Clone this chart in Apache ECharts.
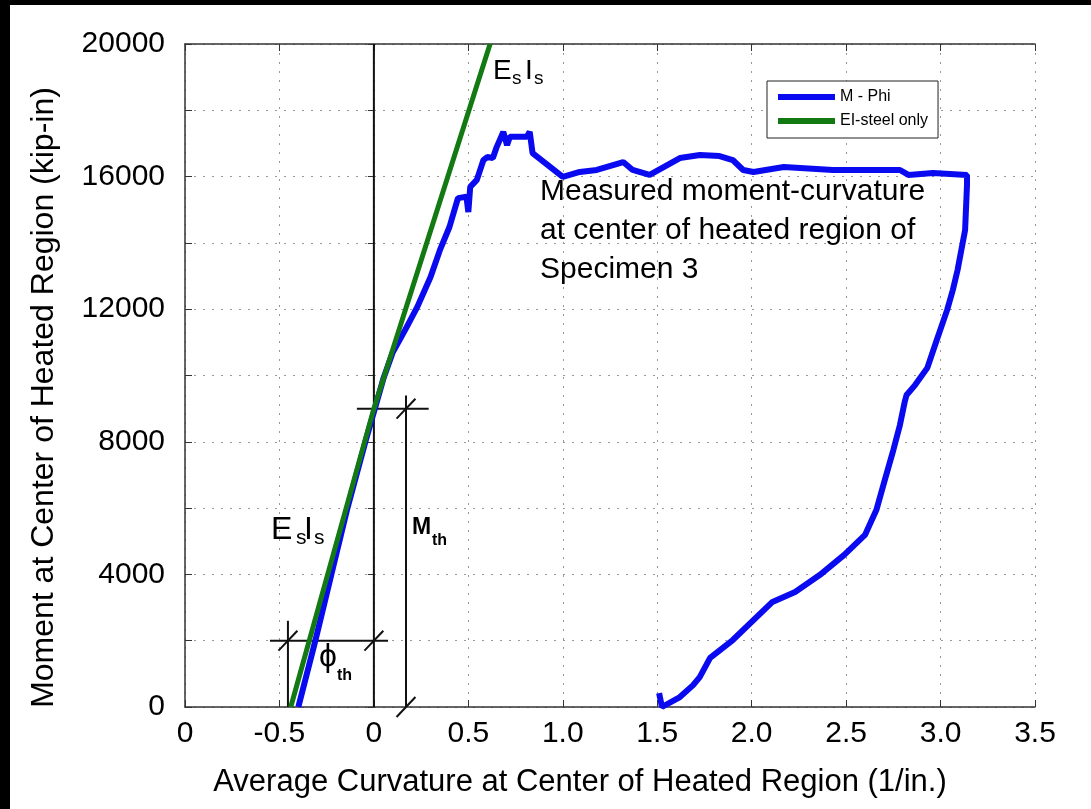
<!DOCTYPE html>
<html>
<head>
<meta charset="utf-8">
<script src="https://cdn.jsdelivr.net/npm/echarts@6.0.0/dist/echarts.min.js"></script>
<style>
  html, body { margin: 0; padding: 0; background: #fff; }
  #main { width: 1091px; height: 809px; }
  .bar { position: absolute; background: #000; }
</style>
</head>
<body>
<div id="main"></div>
<div class="bar" style="left:0;top:0;width:1091px;height:5px"></div>
<div class="bar" style="left:0;top:0;width:10px;height:809px"></div>
<script>
// tick labels as printed on the figure (first one reads "0")
var xTickText = ['0', '-0.5', '0', '0.5', '1.0', '1.5', '2.0', '2.5', '3.0', '3.5'];

// measured M-Phi curve (curvature 1/in., moment kip-in)
var blueX = [-0.40, -0.31, -0.225, -0.14, -0.045, 0.005, 0.05, 0.10, 0.165, 0.23, 0.30, 0.35, 0.40,
  0.445, 0.49, 0.50, 0.51, 0.545, 0.58, 0.60, 0.63, 0.65, 0.685, 0.705, 0.72, 0.76, 0.81, 0.825, 0.84,
  1.00, 1.09, 1.18, 1.32, 1.37, 1.46, 1.62, 1.726, 1.83, 1.90, 1.955, 2.01, 2.17, 2.43, 2.785, 2.83,
  2.96, 3.14, 3.14, 3.13, 3.09, 3.065, 3.035, 2.98, 2.93, 2.865, 2.82, 2.81, 2.785, 2.75, 2.705, 2.66,
  2.60, 2.49, 2.36, 2.23, 2.11, 1.90, 1.78, 1.725, 1.69, 1.62, 1.525, 1.51];
var blueY = [0, 2000, 4000, 6000, 8000, 9000, 9900, 10700, 11370, 12070, 12970, 13790, 14480,
  15350, 15390, 14930, 15690, 15900, 16500, 16590, 16560, 16890, 17350, 16950, 17200, 17200, 17200, 17350, 16710,
  15990, 16140, 16200, 16440, 16200, 16050, 16560, 16650, 16620, 16500, 16200, 16140, 16290, 16200, 16200, 16050,
  16110, 16050, 15750, 14390, 13180, 12580, 11980, 11070, 10230, 9710, 9410, 9200, 8510, 7750, 6850, 5940,
  5190, 4590, 3980, 3470, 3170, 2020, 1480, 900, 660, 300, 0, 420];

// elastic stiffness line, steel only
var greenX = [-0.44, 0, 0.615];
var greenY = [0, 9000, 20000];

// construction lines for M_th and phi_th
var guideSegs = [
  [[0, 0], [0, 20000]],
  [[-0.09, 9000], [0.29, 9000]],
  [[0.17, 0], [0.17, 9400]],
  [[0.12, 8700], [0.22, 9300]],
  [[-0.55, 2000], [0.075, 2000]],
  [[-0.455, 0], [-0.455, 2600]],
  [[-0.505, 1700], [-0.405, 2300]],
  [[-0.05, 1700], [0.05, 2300]],
  [[0.12, -300], [0.22, 300]]
];

var FONT = 'Liberation Sans, Arial, sans-serif';

function pairs(xs, ys) {
  var out = [];
  for (var i = 0; i < xs.length; i++) out.push([xs[i], ys[i]]);
  return out;
}

function txt(x, y, text, size, weight) {
  return {
    type: 'text', x: x, y: y, z: 100,
    style: {
      text: text, fontSize: size, fontFamily: FONT, fontWeight: weight || 'normal', fill: '#000',
      align: 'left', verticalAlign: 'middle', textAlign: 'left', textVerticalAlign: 'middle'
    }
  };
}

var chart = echarts.init(document.getElementById('main'));

var guideSeries = guideSegs.map(function (s) {
  return {
    type: 'line', data: s, symbol: 'none', silent: true, clip: false, z: 1,
    lineStyle: { color: '#111', width: 2 }
  };
});

var dotted = { show: true, lineStyle: { color: '#999', width: 1, type: [2, 7] } };

var option = {
  animation: false,
  backgroundColor: '#fff',
  grid: { left: 185, top: 44, right: 56, bottom: 102 },
  xAxis: [{
    type: 'value', min: -1, max: 3.5, interval: 0.5,
    name: 'Average Curvature at Center of Heated Region (1/in.)',
    nameLocation: 'middle', nameGap: 60,
    nameTextStyle: { fontSize: 31, fontFamily: FONT, color: '#000', padding: [0, 60, 0, 0] },
    axisLine: { onZero: false, lineStyle: { color: '#333', width: 1.5 } },
    axisTick: { inside: true, length: 7, lineStyle: { color: '#333' } },
    axisLabel: {
      fontSize: 30, fontFamily: FONT, color: '#000', margin: 12,
      formatter: function (v) { return xTickText[Math.round((v + 1) / 0.5)]; }
    },
    splitLine: dotted
  }, {
    type: 'value', min: -1, max: 3.5, interval: 0.5, position: 'top',
    axisLine: { onZero: false, lineStyle: { color: '#333', width: 1.5 } },
    axisTick: { inside: true, length: 7, lineStyle: { color: '#333' } },
    axisLabel: { show: false }, splitLine: { show: false }
  }],
  yAxis: [{
    type: 'value', min: 0, max: 20000, interval: 2000,
    name: 'Moment at Center of Heated Region (kip-in)',
    nameLocation: 'middle', nameGap: 125,
    nameTextStyle: { fontSize: 32, fontFamily: FONT, color: '#000', padding: [0, 44, 0, 0] },
    axisLine: { show: true, onZero: false, lineStyle: { color: '#333', width: 1.5 } },
    axisTick: { inside: true, length: 7, lineStyle: { color: '#333' } },
    axisLabel: {
      fontSize: 30, fontFamily: FONT, color: '#000', margin: 20,
      formatter: function (v) { return v % 4000 === 0 ? String(v) : ''; }
    },
    splitLine: dotted
  }, {
    type: 'value', min: 0, max: 20000, interval: 2000, position: 'right',
    axisLine: { show: false },
    axisTick: { show: true, inside: true, length: 6, lineStyle: { color: '#333' } },
    axisLabel: { show: false }, splitLine: { show: false }
  }],
  legend: {
    data: ['M - Phi', 'EI-steel only'],
    orient: 'vertical', left: 767, top: 81,
    padding: [8, 10, 9, 11], itemGap: 8, itemWidth: 57, itemHeight: 6, icon: 'rect',
    backgroundColor: '#fff', borderColor: '#222', borderWidth: 1,
    textStyle: { fontSize: 16, fontFamily: FONT, color: '#000' }
  },
  series: guideSeries.concat([{
    name: 'M - Phi', type: 'line', data: pairs(blueX, blueY), symbol: 'none', z: 3,
    color: '#0a0af0', lineStyle: { color: '#0a0af0', width: 6 }
  }, {
    name: 'EI-steel only', type: 'line', data: pairs(greenX, greenY), symbol: 'none', z: 4,
    color: '#137a13', lineStyle: { color: '#137a13', width: 5 }
  }]),
  graphic: [
    txt(493, 71, 'E', 28), txt(512, 79, 's', 19), txt(525, 71, 'I', 28), txt(534, 79, 's', 19),
    txt(271, 530, 'E', 32), txt(296, 538, 's', 21), txt(304, 530, 'I', 32), txt(314, 538, 's', 21),
    txt(412, 528, 'M', 23, 'bold'), txt(432, 541, 'th', 16, 'bold'),
    txt(319, 657, 'ϕ', 32), txt(337, 676, 'th', 16, 'bold'),
    {
      type: 'text', x: 540, y: 172, z: 100,
      style: {
        text: 'Measured moment-curvature\nat center of heated region of\nSpecimen 3',
        fontSize: 30, lineHeight: 39, fontFamily: FONT, fill: '#000',
        align: 'left', verticalAlign: 'top', textAlign: 'left', textVerticalAlign: 'top'
      }
    }
  ]
};

chart.setOption(option);
</script>
</body>
</html>
